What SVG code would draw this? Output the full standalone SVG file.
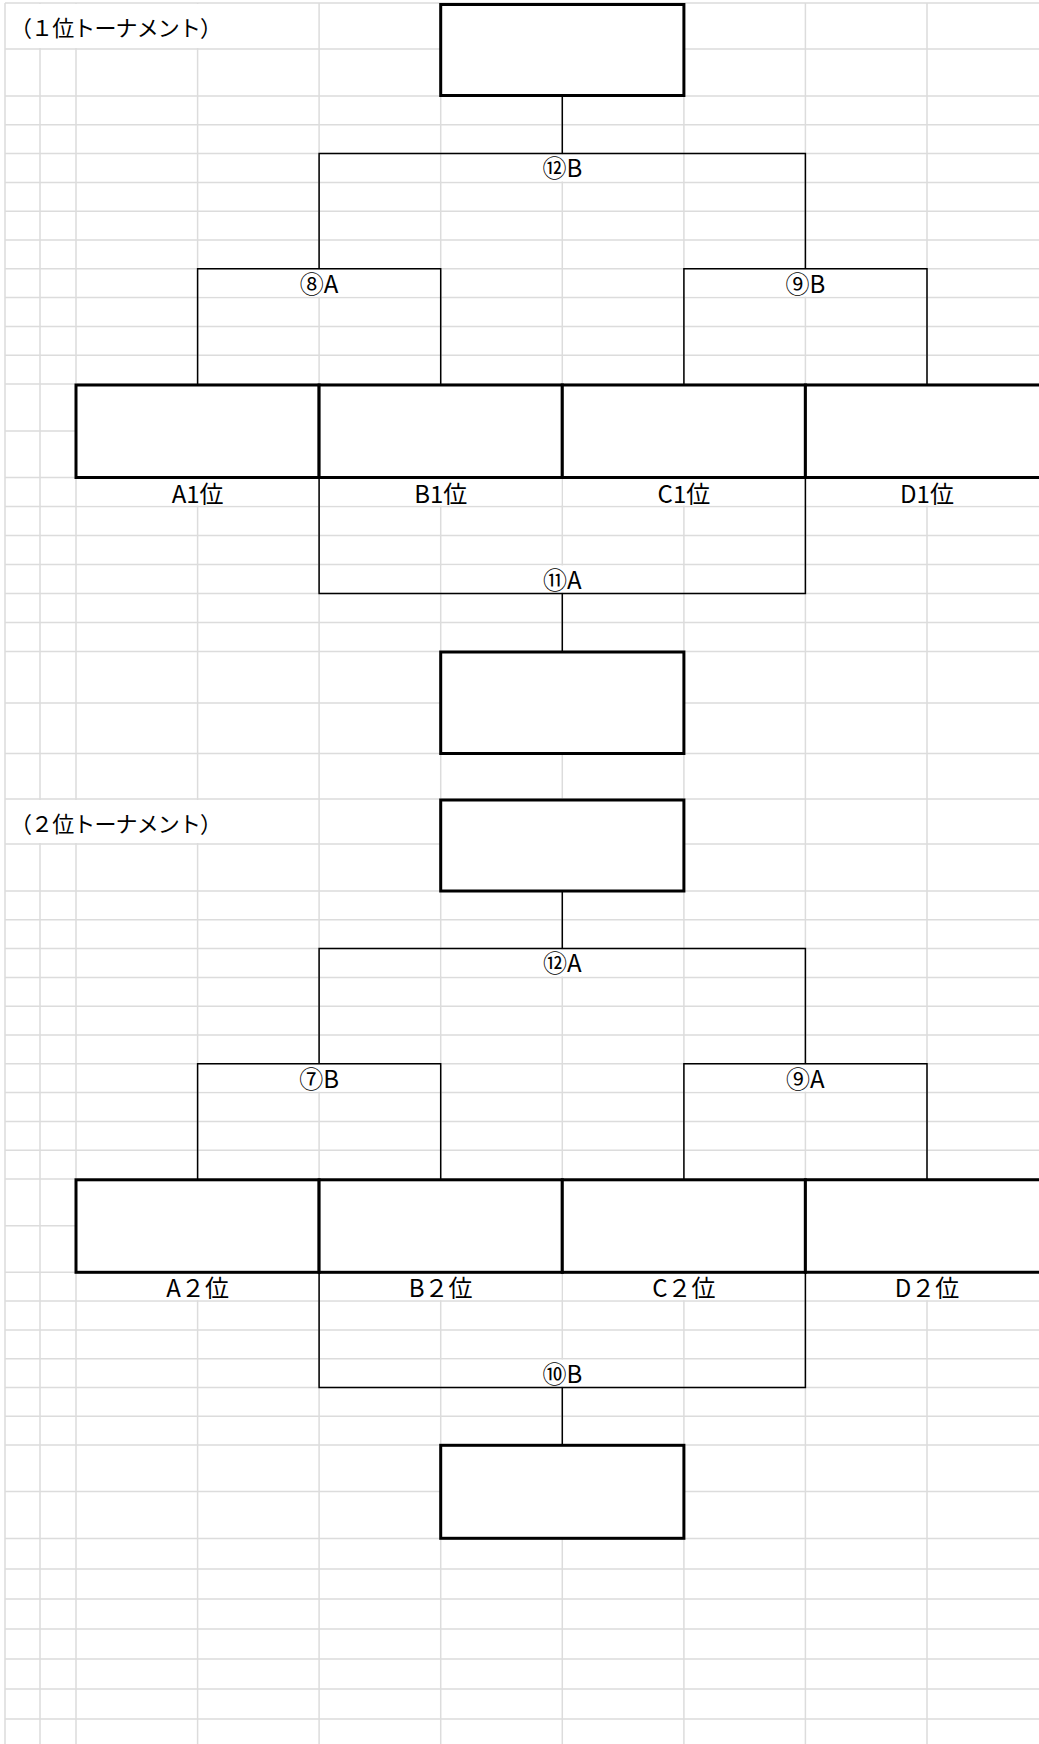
<svg xmlns="http://www.w3.org/2000/svg" width="1039" height="1744" viewBox="0 0 1039 1744">
<style>
.g{stroke:#dcdcdc;stroke-width:1.5;fill:none}
.w{fill:#fff;stroke:none}
.c{stroke:#000;stroke-width:1.5;fill:none}
.b{fill:#fff;stroke:#000;stroke-width:3}
.bo{fill:none;stroke:#000;stroke-width:3}
text{font-family:"Noto Sans CJK JP","Noto Sans",sans-serif;fill:#000}
.t{font-size:22px}
.l{font-size:24px;text-anchor:middle}
</style>
<rect width="1039" height="1744" fill="#fff"/>
<g id="grid">
<path class="g" d="M5,3V1744M40,3V1744M76,3V1744M197.6,3V1744M319.1,3V1744M440.7,3V1744M562.3,3V1744M683.9,3V1744M805.4,3V1744M927,3V1744"/>
<path class="g" d="M5,3H1039M5,49H1039M5,96H1039M5,124.8H1039M5,153.6H1039M5,182.4H1039M5,211.2H1039M5,240H1039M5,268.8H1039M5,297.6H1039M5,326.4H1039M5,355.2H1039M5,384H1039M5,431H1039M5,477.5H1039M5,506.5H1039M5,535.5H1039M5,564.5H1039M5,593.5H1039M5,622.5H1039M5,651.5H1039M5,703H1039M5,753.5H1039M5,799H1039M5,844H1039M5,891H1039M5,919.8H1039M5,948.6H1039M5,977.4H1039M5,1006.2H1039M5,1035H1039M5,1063.8H1039M5,1092.6H1039M5,1121.4H1039M5,1150.2H1039M5,1179H1039M5,1225.7H1039M5,1272.3H1039M5,1301.1H1039M5,1329.9H1039M5,1358.7H1039M5,1387.5H1039M5,1416.3H1039M5,1445H1039M5,1491.5H1039M5,1538.5H1039M5,1569H1039M5,1599H1039M5,1629H1039M5,1659H1039M5,1689H1039M5,1719H1039"/>
<rect class="w" x="6" y="4" width="312" height="44"/>
<rect class="w" x="441.7" y="154.6" width="241.2" height="26.8"/>
<rect class="w" x="198.6" y="269.8" width="241.1" height="26.8"/>
<rect class="w" x="684.9" y="269.8" width="241.1" height="26.8"/>
<rect class="w" x="77" y="478.5" width="241.1" height="27"/>
<rect class="w" x="320.1" y="478.5" width="241.2" height="27"/>
<rect class="w" x="563.3" y="478.5" width="241.1" height="27"/>
<rect class="w" x="806.4" y="478.5" width="233" height="27"/>
<rect class="w" x="441.7" y="565.5" width="241.2" height="27"/>
<rect class="w" x="6" y="800" width="312" height="43"/>
<rect class="w" x="441.7" y="949.6" width="241.2" height="26.8"/>
<rect class="w" x="198.6" y="1064.8" width="241.1" height="26.8"/>
<rect class="w" x="684.9" y="1064.8" width="241.1" height="26.8"/>
<rect class="w" x="77" y="1273.3" width="241.1" height="26.8"/>
<rect class="w" x="320.1" y="1273.3" width="241.2" height="26.8"/>
<rect class="w" x="563.3" y="1273.3" width="241.1" height="26.8"/>
<rect class="w" x="806.4" y="1273.3" width="233" height="26.8"/>
<rect class="w" x="441.7" y="1359.7" width="241.2" height="26.8"/>
</g>
<g id="connectors">
<path class="c" d="M562.3,96V153.6M319.1,268.8V153.6H805.4V268.8M197.6,384V268.8H440.7V384M683.9,384V268.8H927V384M319.1,477.5V593.5H805.4V477.5M562.3,593.5V651.5"/>
<path class="c" d="M562.3,891V948.6M319.1,1063.8V948.6H805.4V1063.8M197.6,1179V1063.8H440.7V1179M683.9,1179V1063.8H927V1179M319.1,1272.3V1387.5H805.4V1272.3M562.3,1387.5V1445"/>
</g>
<g id="title1"><text class="t" x="10" y="36" textLength="212" lengthAdjust="spacing">（１位トーナメント）</text></g>
<g id="final1"><rect class="b" x="440.7" y="4.5" width="243.2" height="91"/></g>
<g id="m12B"><text class="l" x="562.3" y="177">⑫B</text></g>
<g id="m8A"><text class="l" x="319.1" y="292.8">⑧A</text></g>
<g id="m9B"><text class="l" x="805.4" y="292.8">⑨B</text></g>
<g id="A1"><rect class="b" x="76" y="385" width="243.1" height="92.5"/><text class="l" x="197.6" y="502.5">A1位</text></g>
<g id="B1"><rect class="b" x="319.1" y="385" width="243.2" height="92.5"/><text class="l" x="440.7" y="502.5">B1位</text></g>
<g id="C1"><rect class="b" x="562.3" y="385" width="243.1" height="92.5"/><text class="l" x="683.9" y="502.5">C1位</text></g>
<g id="D1"><rect class="w" x="806" y="386" width="233" height="90.5"/><path class="bo" d="M1039,385H805.4V477.5H1039"/><text class="l" x="927" y="502.5">D1位</text></g>
<g id="m11A"><text class="l" x="562.3" y="588.5">⑪A</text></g>
<g id="third1"><rect class="b" x="440.7" y="652" width="243.2" height="101.5"/></g>
<g id="title2"><text class="t" x="10" y="832" textLength="212" lengthAdjust="spacing">（２位トーナメント）</text></g>
<g id="final2"><rect class="b" x="440.7" y="800" width="243.2" height="91"/></g>
<g id="m12A"><text class="l" x="562.3" y="972">⑫A</text></g>
<g id="m7B"><text class="l" x="319.1" y="1087.8">⑦B</text></g>
<g id="m9A"><text class="l" x="805.4" y="1087.8">⑨A</text></g>
<g id="A2"><rect class="b" x="76" y="1179.8" width="243.1" height="92.5"/><text class="l" x="197.6" y="1297.3">A２位</text></g>
<g id="B2"><rect class="b" x="319.1" y="1179.8" width="243.2" height="92.5"/><text class="l" x="440.7" y="1297.3">B２位</text></g>
<g id="C2"><rect class="b" x="562.3" y="1179.8" width="243.1" height="92.5"/><text class="l" x="683.9" y="1297.3">C２位</text></g>
<g id="D2"><rect class="w" x="806" y="1181" width="233" height="90"/><path class="bo" d="M1039,1179.8H805.4V1272.3H1039"/><text class="l" x="927" y="1297.3">D２位</text></g>
<g id="m10B"><text class="l" x="562.3" y="1382.7">⑩B</text></g>
<g id="third2"><rect class="b" x="440.7" y="1445.3" width="243.2" height="93"/></g>
</svg>
